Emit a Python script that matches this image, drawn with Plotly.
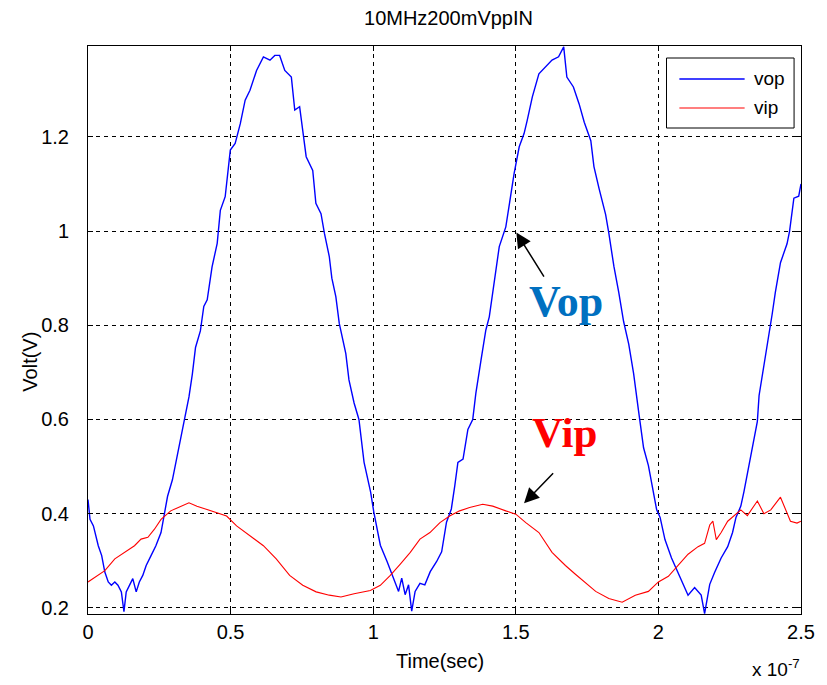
import plotly.graph_objects as go

# time in units of 1e-7 s
t_vop = [0.000, 0.007, 0.019, 0.036, 0.048, 0.059, 0.071, 0.082, 0.094, 0.105,
         0.117, 0.126, 0.134, 0.146, 0.157, 0.169, 0.180, 0.192, 0.204, 0.221,
         0.238, 0.256, 0.267, 0.279, 0.296, 0.308, 0.325, 0.343, 0.354, 0.366,
         0.377, 0.394, 0.406, 0.418, 0.435, 0.453, 0.464, 0.481, 0.499, 0.516,
         0.534, 0.551, 0.568, 0.591, 0.615, 0.638, 0.655, 0.672, 0.690, 0.713,
         0.725, 0.742, 0.753, 0.765, 0.788, 0.799, 0.817, 0.829, 0.846, 0.855,
         0.869, 0.881, 0.904, 0.915, 0.933, 0.950, 0.968, 0.991, 1.002, 1.025,
         1.049, 1.072, 1.089, 1.100, 1.112, 1.124, 1.135, 1.147, 1.164, 1.181,
         1.200, 1.222, 1.240, 1.257, 1.274, 1.286, 1.297, 1.315, 1.332, 1.349,
         1.360, 1.378, 1.395, 1.407, 1.425, 1.442, 1.465, 1.477, 1.494, 1.512,
         1.529, 1.540, 1.558, 1.581, 1.604, 1.627, 1.650, 1.668, 1.679, 1.702,
         1.722, 1.740, 1.763, 1.774, 1.792, 1.815, 1.826, 1.844, 1.861, 1.878,
         1.896, 1.913, 1.930, 1.948, 1.965, 1.983, 1.994, 2.006, 2.023, 2.046,
         2.069, 2.087, 2.104, 2.127, 2.150, 2.162, 2.180, 2.197, 2.220, 2.243,
         2.260, 2.272, 2.289, 2.300, 2.318, 2.336, 2.347, 2.353, 2.370, 2.388,
         2.399, 2.410, 2.428, 2.451, 2.460, 2.475, 2.492, 2.500]
vop = [0.430, 0.388, 0.374, 0.332, 0.311, 0.276, 0.255, 0.248, 0.255, 0.248,
       0.234, 0.192, 0.234, 0.248, 0.262, 0.234, 0.255, 0.269, 0.290, 0.311,
       0.332, 0.360, 0.395, 0.437, 0.472, 0.507, 0.556, 0.613, 0.648, 0.697,
       0.753, 0.788, 0.840, 0.854, 0.924, 0.974, 1.044, 1.073, 1.172, 1.186,
       1.228, 1.278, 1.299, 1.341, 1.370, 1.363, 1.373, 1.373, 1.341, 1.327,
       1.257, 1.264, 1.214, 1.158, 1.129, 1.059, 1.037, 0.995, 0.946, 0.900,
       0.861, 0.804, 0.740, 0.684, 0.635, 0.600, 0.509, 0.446, 0.404, 0.333,
       0.298, 0.263, 0.235, 0.263, 0.228, 0.249, 0.193, 0.235, 0.252, 0.249,
       0.277, 0.298, 0.319, 0.382, 0.410, 0.459, 0.509, 0.516, 0.579, 0.600,
       0.656, 0.726, 0.790, 0.818, 0.896, 0.967, 1.009, 1.059, 1.122, 1.179,
       1.207, 1.235, 1.285, 1.334, 1.348, 1.363, 1.370, 1.391, 1.327, 1.306,
       1.270, 1.231, 1.192, 1.137, 1.090, 1.035, 0.996, 0.925, 0.870, 0.808,
       0.760, 0.698, 0.620, 0.540, 0.502, 0.447, 0.408, 0.392, 0.345, 0.306,
       0.275, 0.250, 0.227, 0.243, 0.227, 0.188, 0.250, 0.275, 0.306, 0.330,
       0.360, 0.392, 0.416, 0.447, 0.502, 0.557, 0.596, 0.651, 0.714, 0.776,
       0.824, 0.870, 0.933, 0.973, 1.000, 1.070, 1.074, 1.100]

t_vip = [0.000, 0.036, 0.059, 0.094, 0.128, 0.163, 0.186, 0.210, 0.233, 0.256,
         0.290, 0.325, 0.354, 0.382, 0.417, 0.451, 0.486, 0.521, 0.568, 0.615,
         0.660, 0.707, 0.753, 0.800, 0.846, 0.887, 0.933, 0.990, 1.025, 1.060,
         1.095, 1.130, 1.164, 1.199, 1.234, 1.268, 1.303, 1.338, 1.384, 1.419,
         1.465, 1.500, 1.535, 1.581, 1.627, 1.674, 1.708, 1.734, 1.780, 1.826,
         1.873, 1.919, 1.965, 2.000, 2.035, 2.069, 2.104, 2.139, 2.162, 2.180,
         2.191, 2.203, 2.220, 2.243, 2.266, 2.289, 2.312, 2.347, 2.370, 2.394,
         2.428, 2.451, 2.463, 2.486, 2.500]
vip = [0.255, 0.269, 0.279, 0.304, 0.318, 0.332, 0.346, 0.350, 0.367, 0.388,
       0.406, 0.416, 0.423, 0.416, 0.409, 0.402, 0.395, 0.374, 0.353, 0.332,
       0.304, 0.269, 0.248, 0.234, 0.227, 0.223, 0.230, 0.237, 0.248, 0.269,
       0.293, 0.318, 0.346, 0.360, 0.381, 0.395, 0.406, 0.413, 0.420, 0.416,
       0.406, 0.399, 0.381, 0.360, 0.318, 0.290, 0.272, 0.259, 0.235, 0.220,
       0.212, 0.227, 0.235, 0.255, 0.267, 0.290, 0.314, 0.330, 0.337, 0.376,
       0.384, 0.345, 0.360, 0.384, 0.396, 0.408, 0.396, 0.427, 0.400, 0.408,
       0.435, 0.400, 0.384, 0.380, 0.384]

x_ticks = [0, 0.5, 1, 1.5, 2, 2.5]
x_tick_labels = ["0", "0.5", "1", "1.5", "2", "2.5"]
y_ticks = [0.2, 0.4, 0.6, 0.8, 1.0, 1.2]
y_tick_labels = ["0.2", "0.4", "0.6", "0.8", "1", "1.2"]
series_names = ["vop", "vip"]

# the page body adds an 8px offset; build the figure 8px smaller
OFF = 8
W, H = 827 - OFF, 685 - OFF
# plot area in reference pixel coordinates
L, R, T, B = 88, 809, 46, 614
FONT = "Liberation Sans, Arial, sans-serif"
SERIF = "Liberation Serif, Times New Roman, serif"


def px(xp):
    return (xp - L) / (R - L)


def py(yp):
    return (B - yp) / (B - T)


fig = go.Figure()
fig.add_trace(go.Scatter(x=t_vop, y=vop, mode="lines", name=series_names[0],
                         line=dict(color="#0000FF", width=1.4)))
fig.add_trace(go.Scatter(x=t_vip, y=vip, mode="lines", name=series_names[1],
                         line=dict(color="#FF0000", width=1.1)))

axis_common = dict(showline=True, linecolor="black", linewidth=1, mirror="allticks",
                   ticks="inside", ticklen=5, tickcolor="black",
                   showgrid=True, gridcolor="black", gridwidth=1, griddash="4px,4px",
                   zeroline=False, tickfont=dict(family=FONT, size=20, color="black"))

fig.update_xaxes(range=[0, 2.5], tickvals=x_ticks, ticktext=x_tick_labels, **axis_common)
fig.update_yaxes(range=[0.187, 1.393], tickvals=y_ticks, ticktext=y_tick_labels,
                 ticklabelstandoff=14, **axis_common)

shapes = [
    dict(type="rect", xref="paper", yref="paper", x0=px(673), x1=px(802), y0=py(128), y1=py(58),
         line=dict(color="black", width=1), fillcolor="white", layer="above"),
    dict(type="line", xref="paper", yref="paper", x0=px(686), x1=px(752), y0=py(79), y1=py(79),
         line=dict(color="#0000FF", width=1.4), layer="above"),
    dict(type="line", xref="paper", yref="paper", x0=px(686), x1=px(752), y0=py(108), y1=py(108),
         line=dict(color="#FF0000", width=1.2), layer="above"),
]

annotations = [
    dict(xref="paper", yref="paper", x=px(759), y=py(79), text=series_names[0], showarrow=False,
         xanchor="left", yanchor="middle", font=dict(family=FONT, size=19, color="black")),
    dict(xref="paper", yref="paper", x=px(759), y=py(108), text=series_names[1], showarrow=False,
         xanchor="left", yanchor="middle", font=dict(family=FONT, size=19, color="black")),
    dict(xref="paper", yref="paper", x=px(444), y=py(661), text="Time(sec)", showarrow=False,
         xanchor="center", yanchor="middle", font=dict(family=FONT, size=20, color="black")),
    dict(xref="paper", yref="paper", x=px(29), y=py(362), text="Volt(V)", showarrow=False,
         textangle=-90, xanchor="center", yanchor="middle",
         font=dict(family=FONT, size=20, color="black")),
    dict(xref="paper", yref="paper", x=px(784), y=py(668), text="x 10<sup>-7</sup>", showarrow=False,
         xanchor="center", yanchor="middle", font=dict(family=FONT, size=19, color="black")),
    # labels with arrows
    dict(x=1.677, y=0.85, xref="x", yref="y", text="<b>Vop</b>", showarrow=False,
         font=dict(family=SERIF, size=44, color="#0070C0")),
    dict(x=1.669, y=0.572, xref="x", yref="y", text="<b>Vip</b>", showarrow=False,
         font=dict(family=SERIF, size=43, color="#FF0000")),
    dict(x=1.502, y=0.997, xref="x", yref="y", ax=1.602, ay=0.90, axref="x", ayref="y",
         text="", showarrow=True, arrowhead=2, arrowsize=2.0, arrowwidth=1.5, arrowcolor="black",
         standoff=0),
    dict(x=1.529, y=0.422, xref="x", yref="y", ax=1.636, ay=0.489, axref="x", ayref="y",
         text="", showarrow=True, arrowhead=2, arrowsize=2.0, arrowwidth=1.5, arrowcolor="black",
         standoff=0),
]

fig.update_layout(
    width=W, height=H,
    margin=dict(l=L - OFF, r=827 - R, t=T - OFF, b=685 - B),
    paper_bgcolor="white", plot_bgcolor="white",
    showlegend=False,
    title=dict(text="10MHz200mVppIN", x=(0.5 * (L + R) - OFF) / W, xanchor="center",
               y=1 - (18 - OFF) / H, yanchor="middle",
               font=dict(family=FONT, size=20, color="black")),
    shapes=shapes, annotations=annotations,
)

fig.write_html("out.html")
